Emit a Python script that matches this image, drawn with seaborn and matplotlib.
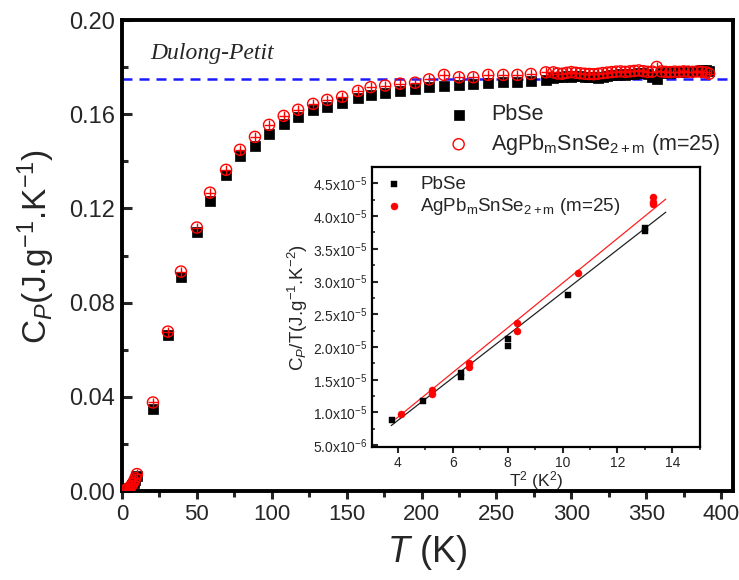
import numpy as np
import matplotlib
matplotlib.use("Agg")
import matplotlib.pyplot as plt
import seaborn as sns
from matplotlib.ticker import MultipleLocator, FuncFormatter

# ---------------- data ----------------
T_pbse = [2, 3, 4, 5, 6, 7, 8, 9, 10, 20.7, 30.7, 39.4, 50, 58.8, 69.5, 78.8, 88.8, 98.2,
          108, 117.6, 127.6, 137, 147, 157.6, 166, 175.7, 185.7, 195.7, 205, 215, 225,
          234.5, 244.5, 254.5, 264, 273, 283,
          288, 291, 294, 297, 300, 303, 306, 309, 312, 315, 318, 321, 324, 327, 330, 333,
          336, 339, 342, 345, 348, 351, 354, 357, 360, 363, 366, 369, 372, 375, 378, 381,
          384, 387, 390, 392]
Cp_pbse = [0.0002, 0.0004, 0.0007, 0.0012, 0.0018, 0.0026, 0.0036, 0.0048, 0.0063,
           0.0350, 0.0661, 0.0907, 0.1102, 0.1233, 0.1343, 0.1424, 0.1466, 0.1517,
           0.1559, 0.1589, 0.1619, 0.1631, 0.1648, 0.1668, 0.1682, 0.1689, 0.1699, 0.1708,
           0.1715, 0.1722, 0.1725, 0.1727, 0.1734, 0.1736, 0.1739, 0.1742, 0.1745,
           0.1752, 0.1758, 0.1760, 0.1762, 0.1760, 0.1763, 0.1761, 0.1758, 0.1760, 0.1757,
           0.1756, 0.1759, 0.1762, 0.1765, 0.1767, 0.1770, 0.1768, 0.1772, 0.1770, 0.1774,
           0.1776, 0.1772, 0.1760, 0.1748, 0.1775, 0.1778, 0.1777, 0.1779, 0.1781, 0.1780,
           0.1782, 0.1784, 0.1783, 0.1786, 0.1787, 0.1784]

T_ag = T_pbse
Cp_ag = [0.0003, 0.0005, 0.0009, 0.0014, 0.0021, 0.0030, 0.0041, 0.0055, 0.0072,
         0.0376, 0.0677, 0.0932, 0.1119, 0.1267, 0.1364, 0.1449, 0.1504, 0.1555,
         0.1593, 0.1619, 0.1644, 0.1661, 0.1674, 0.1699, 0.1715, 0.1722, 0.1730, 0.1734,
         0.1748, 0.1767, 0.1757, 0.1757, 0.1767, 0.1767, 0.1767, 0.1771, 0.1778,
         0.1778, 0.1773, 0.1772, 0.1776, 0.1779, 0.1776, 0.1774, 0.1772, 0.1771, 0.1770,
         0.1772, 0.1775, 0.1777, 0.1779, 0.1781, 0.1782, 0.1780, 0.1782, 0.1784, 0.1786,
         0.1783, 0.1780, 0.1781, 0.1801, 0.1782, 0.1780, 0.1779, 0.1781, 0.1780, 0.1782,
         0.1781, 0.1780, 0.1782, 0.1780, 0.1778, 0.1772]
T_err = 3.3
Cp_err = 0.0021
dulong_petit = 0.175

# inset: C/T vs T^2
T2_pbse = [3.8, 4.9, 6.3, 6.3, 8.0, 8.0, 10.2, 13.0, 13.0]
CT_pbse = [8.8e-6, 1.17e-5, 1.60e-5, 1.54e-5, 2.12e-5, 2.02e-5, 2.80e-5, 3.82e-5, 3.77e-5]
T2_ag = [4.12, 5.24, 5.24, 6.6, 6.6, 8.35, 8.35, 10.57, 13.3, 13.3, 13.3]
CT_ag = [9.8e-6, 1.34e-5, 1.29e-5, 1.76e-5, 1.70e-5, 2.37e-5, 2.25e-5, 3.13e-5,
         4.29e-5, 4.21e-5, 4.19e-5]
# linear-fit lines (end points)
fit_T2_pbse = [3.76, 13.76]
fit_CT_pbse = [8.0e-6, 4.06e-5]
fit_T2_ag = [3.92, 13.76]
fit_CT_ag = [9.0e-6, 4.26e-5]

label_pbse = "PbSe"
label_ag = "AgPb$_\\mathregular{m}$SnSe$_\\mathregular{2+m}$ (m=25)"

# ---------------- style ----------------
sns.set_theme(style="white")
plt.rcParams["font.family"] = ["Liberation Sans", "DejaVu Sans"]
plt.rcParams["mathtext.fontset"] = "custom"
plt.rcParams["mathtext.rm"] = "Liberation Sans"
plt.rcParams["mathtext.it"] = "Liberation Sans:italic"
plt.rcParams["mathtext.bf"] = "Liberation Sans:bold"

fig = plt.figure(figsize=(7.39, 5.80), dpi=100)
ax = fig.add_axes([0.165, 0.1534, 0.827, 0.812])

sns.scatterplot(x=T_pbse, y=Cp_pbse, marker="s", s=56, color="black",
                edgecolor="black", linewidth=0.5, ax=ax, label=label_pbse, zorder=3)
ax.errorbar(T_ag, Cp_ag, xerr=T_err, yerr=Cp_err, fmt="none", ecolor="red",
            elinewidth=1.0, capsize=0, zorder=4)
sns.scatterplot(x=T_ag, y=Cp_ag, marker="o", s=64, facecolors="none",
                edgecolor="red", linewidth=1.0, ax=ax, label=label_ag, zorder=5)
ax.axhline(dulong_petit, color="#1a1aff", lw=1.8, ls=(0, (4, 2.8)), zorder=2)

ax.set_xlim(0, 408)
ax.set_ylim(0, 0.2)
ax.xaxis.set_major_locator(MultipleLocator(50))
ax.xaxis.set_minor_locator(MultipleLocator(25))
ax.yaxis.set_major_locator(MultipleLocator(0.04))
ax.yaxis.set_minor_locator(MultipleLocator(0.02))
ax.yaxis.set_major_formatter(FuncFormatter(lambda v, p: f"{v:.2f}"))
ax.tick_params(axis="y", which="major", direction="in", length=7, width=2.2,
               labelsize=17, left=True, pad=5)
ax.tick_params(axis="y", which="minor", direction="in", length=4, width=2.2, left=True)
ax.tick_params(axis="x", which="major", direction="out", length=6, width=2.2,
               labelsize=16, bottom=True, pad=3)
ax.tick_params(axis="x", which="minor", direction="out", length=4, width=2.2, bottom=True)
for sp in ax.spines.values():
    sp.set_linewidth(2.8)
    sp.set_color("black")
ax.set_xlabel("$T$ (K)", fontsize=26, labelpad=6)
ax.set_ylabel("C$_{P}$(J.g$^{\\mathregular{-1}}$.K$^{\\mathregular{-1}}$)", fontsize=24)
ax.yaxis.set_label_coords(-0.107, 0.52)
ax.text(19, 0.186, "Dulong-Petit", family="Liberation Serif", style="italic",
        fontsize=17, va="center", ha="left")
leg = ax.legend(loc="upper left", bbox_to_anchor=(0.484, 0.862), frameon=False,
                fontsize=15.5, handletextpad=0.5, labelspacing=0.3, markerscale=1.0)

# ---------------- inset ----------------
axi = fig.add_axes([0.503, 0.229, 0.444, 0.483])
sns.scatterplot(x=T2_pbse, y=CT_pbse, marker="s", s=20, color="black",
                edgecolor="black", linewidth=0.3, ax=axi, label=label_pbse, zorder=3)
sns.scatterplot(x=T2_ag, y=CT_ag, marker="o", s=26, color="red",
                edgecolor="red", linewidth=0.3, ax=axi, label=label_ag, zorder=3)
sns.lineplot(x=fit_T2_pbse, y=fit_CT_pbse, color="#222222", lw=0.9, ax=axi,
             legend=False, zorder=2)
sns.lineplot(x=fit_T2_ag, y=fit_CT_ag, color="#ff2020", lw=0.9, ax=axi,
             legend=False, zorder=2)

axi.set_xlim(3.05, 15)
axi.set_ylim(4.7e-6, 4.75e-5)
axi.xaxis.set_major_locator(MultipleLocator(2))
axi.xaxis.set_minor_locator(MultipleLocator(1))
axi.yaxis.set_major_locator(MultipleLocator(5e-6))
axi.yaxis.set_minor_locator(MultipleLocator(2.5e-6))


def sci(v, p):
    if v <= 0:
        return ""
    e = int(np.floor(np.log10(v) + 1e-9))
    m = v / 10 ** e
    return f"{m:.1f}x10$^{{\\mathregular{{{e}}}}}$"


axi.yaxis.set_major_formatter(FuncFormatter(sci))
axi.tick_params(axis="y", which="major", direction="in", length=4, width=1.5,
                labelsize=10, left=True, pad=3)
axi.tick_params(axis="y", which="minor", direction="in", length=2.5, width=1.2, left=True)
axi.tick_params(axis="x", which="major", direction="out", length=4, width=1.5,
                labelsize=10, bottom=True, pad=2)
axi.tick_params(axis="x", which="minor", direction="out", length=2.5, width=1.2, bottom=True)
for sp in axi.spines.values():
    sp.set_linewidth(1.6)
    sp.set_color("black")
axi.set_xlabel("T$^{\\mathregular{2}}$ (K$^{\\mathregular{2}}$)", fontsize=12.5, labelpad=0)
axi.set_ylabel("C$_{P}$/T(J.g$^{\\mathregular{-1}}$.K$^{\\mathregular{-2}}$)", fontsize=13.5, labelpad=2)
axi.legend(loc="upper left", bbox_to_anchor=(-0.04, 1.03), frameon=False, fontsize=13.5,
           handletextpad=0.4, labelspacing=0.2, markerscale=1.0)

fig.savefig("out.png", dpi=100)
